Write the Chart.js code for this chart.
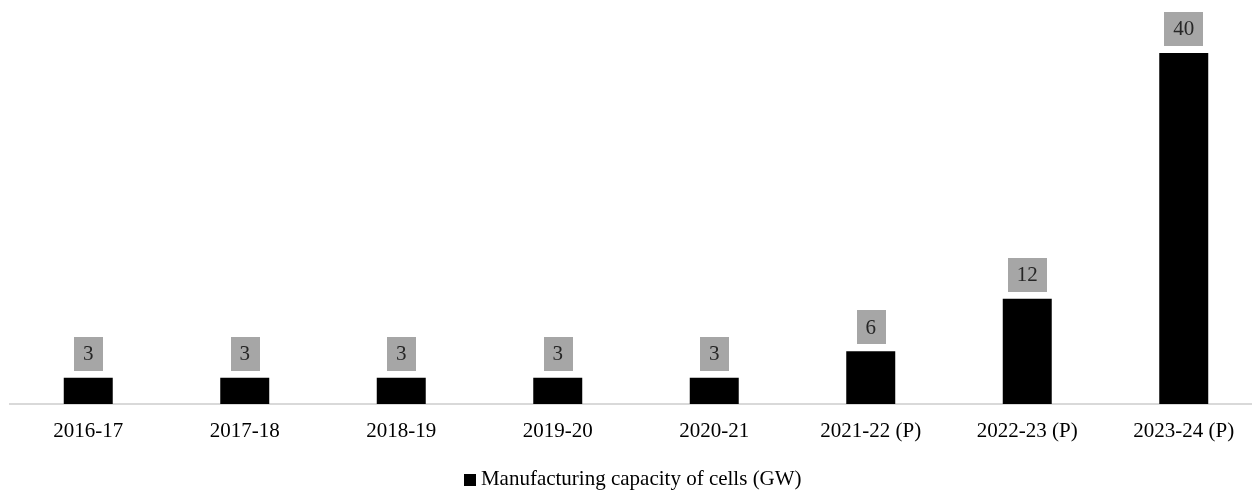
<!DOCTYPE html>
<html>
<head>
<meta charset="utf-8">
<script src="https://cdn.jsdelivr.net/npm/chart.js@4/dist/chart.umd.min.js"></script>
<style>
  html, body { margin: 0; padding: 0; background: #fff; overflow: hidden; }
  #wrap { position: relative; width: 1262px; height: 490px; }
</style>
</head>
<body>
<div id="wrap"><canvas id="c"></canvas></div>
<script>
// Solar cell manufacturing capacity by financial year (P = projected)
const years = ['2016-17', '2017-18', '2018-19', '2019-20', '2020-21', '2021-22 (P)', '2022-23 (P)', '2023-24 (P)'];
const capacityGW = [3, 3, 3, 3, 3, 6, 12, 40];
const seriesName = 'Manufacturing capacity of cells (GW)';

const FONT = "'Liberation Serif', 'Times New Roman', serif";

// Small black square used as the legend marker
const legendSquare = document.createElement('canvas');
legendSquare.width = 12;
legendSquare.height = 12;
(function () {
  const g = legendSquare.getContext('2d');
  g.fillStyle = '#000';
  g.fillRect(0, 0, 12, 12);
})();

// Grey value boxes drawn above each bar
const valueBoxes = {
  id: 'valueBoxes',
  afterDatasetsDraw(chart) {
    const ctx = chart.ctx;
    const meta = chart.getDatasetMeta(0);
    const ds = chart.data.datasets[0];
    ctx.save();
    ctx.font = '21px ' + FONT;
    ctx.textAlign = 'center';
    ctx.textBaseline = 'middle';
    meta.data.forEach((bar, i) => {
      const txt = String(ds.data[i]);
      const w = ctx.measureText(txt).width + 18;
      const h = 34;
      const bottom = bar.y - 7;
      ctx.fillStyle = '#a6a6a6';
      ctx.fillRect(Math.round(bar.x - w / 2), Math.round(bottom - h), Math.round(w), h);
      ctx.fillStyle = '#262626';
      ctx.fillText(txt, bar.x, bottom - h / 2 + 1);
    });
    ctx.restore();
  }
};

new Chart(document.getElementById('c'), {
  type: 'bar',
  data: {
    labels: years,
    datasets: [{
      label: seriesName,
      data: capacityGW,
      backgroundColor: '#000000',
      borderWidth: 0,
      categoryPercentage: 1,
      barPercentage: 0.313,
      pointStyle: legendSquare
    }]
  },
  options: {
    responsive: true,
    maintainAspectRatio: false,
    animation: false,
    layout: { padding: { top: 9, left: 10, right: 0, bottom: -10 } },
    plugins: {
      tooltip: { enabled: false },
      legend: {
        position: 'bottom',
        labels: {
          color: '#000',
          font: { family: FONT, size: 21 },
          usePointStyle: true,
          pointStyleWidth: 0.01,
          boxHeight: 12,
          padding: 0
        }
      }
    },
    scales: {
      x: {
        grid: { display: false },
        border: { display: true, color: '#d9d9d9', width: 2 },
        ticks: { color: '#000', font: { family: FONT, size: 21 }, padding: 7, maxRotation: 0 },
        afterFit(scale) { scale.height = 65; }
      },
      y: {
        display: false,
        min: 0,
        max: 45
      }
    }
  },
  plugins: [valueBoxes]
});
</script>
</body>
</html>
